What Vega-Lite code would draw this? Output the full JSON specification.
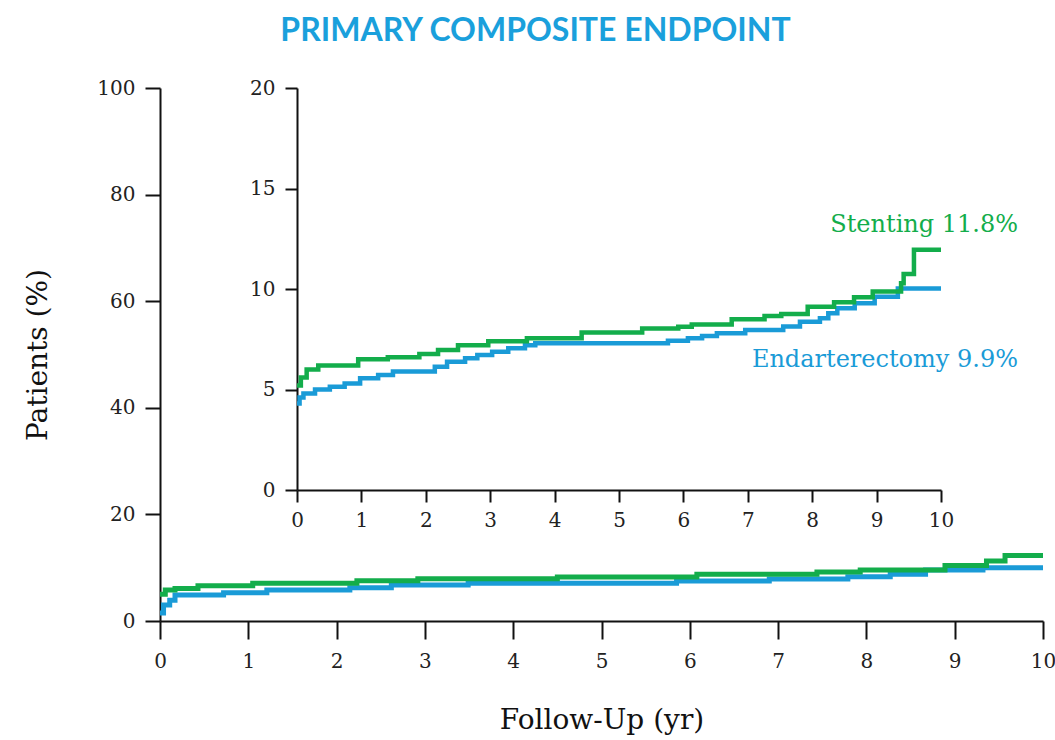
{
  "$schema": "https://vega.github.io/schema/vega-lite/v6.json",
  "width": 883,
  "height": 533,
  "autosize": "none",
  "padding": {"left": 160, "top": 88, "right": 12, "bottom": 119},
  "config": {
    "view": {"stroke": null},
    "axis": {
      "grid": false,
      "domainColor": "#111111",
      "tickColor": "#111111",
      "domainWidth": 2,
      "tickWidth": 2,
      "labelFlush": false,
      "labelFont": "DejaVu Serif",
      "labelColor": "#222222",
      "labelFontSize": 20,
      "titleFont": "DejaVu Serif",
      "titleFontWeight": "normal",
      "titleFontSize": 28,
      "titleColor": "#111111"
    }
  },
  "title": {
    "text": "PRIMARY COMPOSITE ENDPOINT",
    "font": "Lato",
    "fontWeight": "bold",
    "fontSize": 32,
    "color": "#1aa0dc",
    "anchor": "middle",
    "frame": "group",
    "dx": -66,
    "offset": 30
  },
  "datasets": {
    "main": [
      {"t": 0, "pct": 1.5, "arm": "Endarterectomy"},
      {"t": 0.04, "pct": 3.0, "arm": "Endarterectomy"},
      {"t": 0.11, "pct": 3.9, "arm": "Endarterectomy"},
      {"t": 0.17, "pct": 4.9, "arm": "Endarterectomy"},
      {"t": 0.72, "pct": 5.3, "arm": "Endarterectomy"},
      {"t": 1.21, "pct": 5.8, "arm": "Endarterectomy"},
      {"t": 2.15, "pct": 6.25, "arm": "Endarterectomy"},
      {"t": 2.62, "pct": 6.75, "arm": "Endarterectomy"},
      {"t": 3.49, "pct": 7.07, "arm": "Endarterectomy"},
      {"t": 5.85, "pct": 7.5, "arm": "Endarterectomy"},
      {"t": 6.9, "pct": 7.88, "arm": "Endarterectomy"},
      {"t": 7.79, "pct": 8.32, "arm": "Endarterectomy"},
      {"t": 8.27, "pct": 8.76, "arm": "Endarterectomy"},
      {"t": 8.67, "pct": 9.57, "arm": "Endarterectomy"},
      {"t": 9.32, "pct": 10.0, "arm": "Endarterectomy"},
      {"t": 10, "pct": 10.0, "arm": "Endarterectomy"},
      {"t": 0, "pct": 5.0, "arm": "Stenting"},
      {"t": 0.06, "pct": 5.8, "arm": "Stenting"},
      {"t": 0.17, "pct": 6.1, "arm": "Stenting"},
      {"t": 0.43, "pct": 6.6, "arm": "Stenting"},
      {"t": 1.05, "pct": 7.07, "arm": "Stenting"},
      {"t": 2.23, "pct": 7.57, "arm": "Stenting"},
      {"t": 2.92, "pct": 7.94, "arm": "Stenting"},
      {"t": 4.5, "pct": 8.25, "arm": "Stenting"},
      {"t": 6.08, "pct": 8.76, "arm": "Stenting"},
      {"t": 7.44, "pct": 9.2, "arm": "Stenting"},
      {"t": 7.93, "pct": 9.57, "arm": "Stenting"},
      {"t": 8.89, "pct": 10.4, "arm": "Stenting"},
      {"t": 9.36, "pct": 11.26, "arm": "Stenting"},
      {"t": 9.57, "pct": 12.3, "arm": "Stenting"},
      {"t": 10, "pct": 12.3, "arm": "Stenting"}
    ],
    "inset": [
      {"t": 0, "pct": 4.3, "arm": "Endarterectomy"},
      {"t": 0.04, "pct": 4.6, "arm": "Endarterectomy"},
      {"t": 0.1, "pct": 4.8, "arm": "Endarterectomy"},
      {"t": 0.28, "pct": 5.0, "arm": "Endarterectomy"},
      {"t": 0.51, "pct": 5.14, "arm": "Endarterectomy"},
      {"t": 0.74, "pct": 5.3, "arm": "Endarterectomy"},
      {"t": 0.98, "pct": 5.56, "arm": "Endarterectomy"},
      {"t": 1.26, "pct": 5.72, "arm": "Endarterectomy"},
      {"t": 1.49, "pct": 5.89, "arm": "Endarterectomy"},
      {"t": 2.14, "pct": 6.13, "arm": "Endarterectomy"},
      {"t": 2.33, "pct": 6.38, "arm": "Endarterectomy"},
      {"t": 2.61, "pct": 6.55, "arm": "Endarterectomy"},
      {"t": 2.8, "pct": 6.72, "arm": "Endarterectomy"},
      {"t": 3.03, "pct": 6.88, "arm": "Endarterectomy"},
      {"t": 3.28, "pct": 7.05, "arm": "Endarterectomy"},
      {"t": 3.54, "pct": 7.2, "arm": "Endarterectomy"},
      {"t": 3.7, "pct": 7.3, "arm": "Endarterectomy"},
      {"t": 5.76, "pct": 7.43, "arm": "Endarterectomy"},
      {"t": 6.07, "pct": 7.55, "arm": "Endarterectomy"},
      {"t": 6.29, "pct": 7.66, "arm": "Endarterectomy"},
      {"t": 6.52, "pct": 7.8, "arm": "Endarterectomy"},
      {"t": 6.96, "pct": 7.96, "arm": "Endarterectomy"},
      {"t": 7.55, "pct": 8.13, "arm": "Endarterectomy"},
      {"t": 7.81, "pct": 8.37, "arm": "Endarterectomy"},
      {"t": 8.12, "pct": 8.54, "arm": "Endarterectomy"},
      {"t": 8.25, "pct": 8.79, "arm": "Endarterectomy"},
      {"t": 8.39, "pct": 9.04, "arm": "Endarterectomy"},
      {"t": 8.66, "pct": 9.29, "arm": "Endarterectomy"},
      {"t": 8.97, "pct": 9.62, "arm": "Endarterectomy"},
      {"t": 9.33, "pct": 10.03, "arm": "Endarterectomy"},
      {"t": 10, "pct": 10.03, "arm": "Endarterectomy"},
      {"t": 0, "pct": 5.2, "arm": "Stenting"},
      {"t": 0.06, "pct": 5.6, "arm": "Stenting"},
      {"t": 0.15, "pct": 6.0, "arm": "Stenting"},
      {"t": 0.33, "pct": 6.2, "arm": "Stenting"},
      {"t": 0.95, "pct": 6.5, "arm": "Stenting"},
      {"t": 1.41, "pct": 6.6, "arm": "Stenting"},
      {"t": 1.9, "pct": 6.77, "arm": "Stenting"},
      {"t": 2.19, "pct": 6.97, "arm": "Stenting"},
      {"t": 2.5, "pct": 7.2, "arm": "Stenting"},
      {"t": 2.97, "pct": 7.4, "arm": "Stenting"},
      {"t": 3.57, "pct": 7.55, "arm": "Stenting"},
      {"t": 4.42, "pct": 7.83, "arm": "Stenting"},
      {"t": 5.36, "pct": 8.04, "arm": "Stenting"},
      {"t": 5.92, "pct": 8.12, "arm": "Stenting"},
      {"t": 6.13, "pct": 8.24, "arm": "Stenting"},
      {"t": 6.75, "pct": 8.5, "arm": "Stenting"},
      {"t": 7.26, "pct": 8.66, "arm": "Stenting"},
      {"t": 7.52, "pct": 8.76, "arm": "Stenting"},
      {"t": 7.93, "pct": 9.12, "arm": "Stenting"},
      {"t": 8.34, "pct": 9.34, "arm": "Stenting"},
      {"t": 8.65, "pct": 9.59, "arm": "Stenting"},
      {"t": 8.94, "pct": 9.87, "arm": "Stenting"},
      {"t": 9.38, "pct": 10.28, "arm": "Stenting"},
      {"t": 9.42, "pct": 10.75, "arm": "Stenting"},
      {"t": 9.58, "pct": 11.95, "arm": "Stenting"},
      {"t": 10, "pct": 11.95, "arm": "Stenting"}
    ],
    "labels": [
      {"t": 10, "pct": 11.8, "arm": "Stenting", "label": "Stenting 11.8%"},
      {"t": 10, "pct": 9.9, "arm": "Endarterectomy", "label": "Endarterectomy 9.9%"}
    ]
  },
  "layer": [
    {
      "data": {"name": "main"},
      "mark": {"type": "line", "interpolate": "step-after", "strokeWidth": 5},
      "encoding": {
        "x": {
          "field": "t", "type": "quantitative",
          "scale": {"domain": [0, 10], "nice": false, "zero": false},
          "axis": {"orient": "bottom", "values": [0,1,2,3,4,5,6,7,8,9,10], "format": "d", "tickSize": 18, "labelPadding": 12, "title": "Follow-Up (yr)", "titlePadding": 35}
        },
        "y": {
          "field": "pct", "type": "quantitative",
          "scale": {"domain": [0, 100], "nice": false},
          "axis": {"orient": "left", "values": [0,20,40,60,80,100], "format": "d", "tickSize": 15, "labelPadding": 10, "title": "Patients (%)", "titlePadding": 44}
        },
        "color": {
          "field": "arm", "type": "nominal",
          "scale": {"domain": ["Endarterectomy", "Stenting"], "range": ["#1a9bd7", "#13ad4b"]},
          "legend": null
        }
      }
    },
    {
      "layer": [
        {
          "data": {"name": "inset"},
          "mark": {"type": "line", "interpolate": "step-after", "strokeWidth": 4.5},
          "encoding": {
            "x": {
              "field": "t", "type": "quantitative",
              "scale": {"domain": [0, 10], "nice": false, "zero": false, "range": [137, 781]},
              "axis": {"orient": "bottom", "offset": -131, "values": [0,1,2,3,4,5,6,7,8,9,10], "format": "d", "tickSize": 12, "labelPadding": 8, "title": null}
            },
            "y": {
              "field": "pct", "type": "quantitative",
              "scale": {"domain": [0, 20], "nice": false, "range": [402, 0]},
              "axis": {"orient": "left", "offset": -137, "values": [0,5,10,15,20], "format": "d", "tickSize": 12, "labelPadding": 10, "title": null}
            },
            "color": {
              "field": "arm", "type": "nominal",
              "scale": {"domain": ["Endarterectomy", "Stenting"], "range": ["#1a9bd7", "#13ad4b"]},
              "legend": null
            }
          }
        },
        {
          "data": {"name": "labels"},
          "transform": [{"filter": "datum.arm === 'Stenting'"}],
          "mark": {"type": "text", "font": "DejaVu Serif", "fontSize": 24, "align": "right", "baseline": "alphabetic", "dx": 77, "dy": -21},
          "encoding": {
            "x": {"field": "t", "type": "quantitative"},
            "y": {"field": "pct", "type": "quantitative"},
            "text": {"field": "label"},
            "color": {"field": "arm", "type": "nominal", "legend": null}
          }
        },
        {
          "data": {"name": "labels"},
          "transform": [{"filter": "datum.arm === 'Endarterectomy'"}],
          "mark": {"type": "text", "font": "DejaVu Serif", "fontSize": 24, "align": "right", "baseline": "alphabetic", "dx": 77, "dy": 76},
          "encoding": {
            "x": {"field": "t", "type": "quantitative"},
            "y": {"field": "pct", "type": "quantitative"},
            "text": {"field": "label"},
            "color": {"field": "arm", "type": "nominal", "legend": null}
          }
        }
      ]
    }
  ],
  "resolve": {
    "scale": {"x": "independent", "y": "independent"},
    "axis": {"x": "independent", "y": "independent"}
  }
}
